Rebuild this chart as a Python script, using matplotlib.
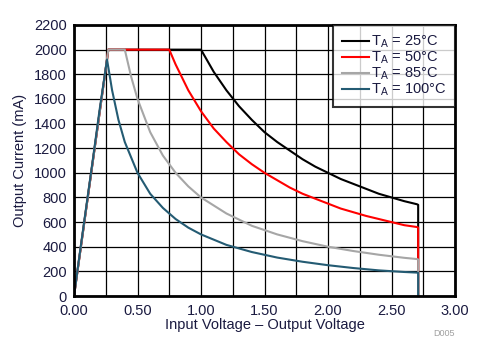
import matplotlib
matplotlib.use("Agg")
import matplotlib.pyplot as plt
from matplotlib.ticker import MultipleLocator

plt.rcParams['font.family'] = ['Liberation Sans', 'DejaVu Sans']
plt.rcParams['mathtext.fontset'] = 'custom'
plt.rcParams['mathtext.rm'] = 'Liberation Sans'

# --- data ---
labels = [r'T$_\mathregular{A}$ = 25°C', r'T$_\mathregular{A}$ = 50°C',
          r'T$_\mathregular{A}$ = 85°C', r'T$_\mathregular{A}$ = 100°C']

x_25 = [0, 0.26, 0.27, 1.0, 1.1, 1.2, 1.3, 1.4, 1.5, 1.6, 1.7, 1.8, 1.9, 2.0,
        2.1, 2.2, 2.3, 2.4, 2.5, 2.6, 2.7, 2.71, 2.71]
y_25 = [0, 1920, 2000, 2000, 1820, 1670, 1540, 1430, 1330, 1250, 1180, 1110, 1050, 1000,
        950, 910, 870, 830, 800, 770, 745, 740, 0]

x_50 = [0, 0.26, 0.27, 0.75, 0.8, 0.9, 1.0, 1.1, 1.2, 1.3, 1.4, 1.5, 1.6, 1.7, 1.8,
        1.9, 2.0, 2.1, 2.2, 2.3, 2.4, 2.5, 2.6, 2.7, 2.71, 2.71]
y_50 = [0, 1920, 2000, 2000, 1880, 1670, 1500, 1360, 1250, 1150, 1070, 1000, 940, 880, 830,
        790, 750, 710, 680, 650, 625, 600, 575, 560, 555, 0]

x_85 = [0, 0.26, 0.27, 0.4, 0.45, 0.5, 0.6, 0.7, 0.8, 0.9, 1.0, 1.2, 1.4, 1.6, 1.8,
        2.0, 2.2, 2.4, 2.6, 2.7, 2.71, 2.71]
y_85 = [0, 1920, 2000, 2000, 1780, 1600, 1330, 1140, 1000, 890, 800, 670, 570, 500, 445,
        400, 365, 335, 310, 300, 296, 0]

x_100 = [0, 0.05, 0.1, 0.15, 0.2, 0.26, 0.3, 0.35, 0.4, 0.5, 0.6, 0.7, 0.8, 0.9, 1.0,
         1.2, 1.4, 1.6, 1.8, 2.0, 2.2, 2.4, 2.6, 2.7, 2.71, 2.71]
y_100 = [0, 380, 750, 1120, 1500, 1920, 1670, 1430, 1250, 1000, 830, 715, 625, 555, 500,
         415, 357, 312, 278, 250, 227, 208, 195, 190, 188, 0]

x_ticks = [0, 0.5, 1.0, 1.5, 2.0, 2.5, 3.0]
x_tick_labels = ['0.00', '0.50', '1.00', '1.50', '2.00', '2.50', '3.00']
y_ticks = list(range(0, 2201, 200))

colors = ['#000000', '#FF0000', '#A6A6A6', '#245B73']
text_color = '#1A1A40'

fig = plt.figure(figsize=(4.93, 3.62), dpi=100)
ax = fig.add_axes([74/493, 1 - 296/362, (455-74)/493, (296-25)/362])

series = [(x_25, y_25), (x_50, y_50), (x_85, y_85), (x_100, y_100)]
for (xs, ys), c, lab in zip(series, colors, labels):
    ax.plot(xs, ys, color=c, lw=1.5, label=lab, zorder=3)

ax.set_xlim(0, 3.0)
ax.set_ylim(0, 2200)
ax.set_xticks(x_ticks)
ax.set_xticklabels(x_tick_labels)
ax.xaxis.set_minor_locator(MultipleLocator(0.25))
ax.set_yticks(y_ticks)
ax.grid(True, which='both', color='black', lw=0.9, zorder=1)
ax.tick_params(which='both', length=0, labelsize=10.5, colors=text_color)
ax.tick_params(axis='x', pad=6)
ax.tick_params(axis='y', pad=5)
for s in ax.spines.values():
    s.set_linewidth(2)
    s.set_color('black')
    s.set_zorder(4)

ax.set_xlabel('Input Voltage – Output Voltage', fontsize=10.5, color=text_color, labelpad=0)
ax.set_ylabel('Output Current (mA)', fontsize=10.5, color=text_color, labelpad=5)

leg = ax.legend(loc='upper right', borderaxespad=0, fontsize=10.5, frameon=True,
                fancybox=False, edgecolor='black', handlelength=1.85,
                handletextpad=0.15, labelspacing=-0.05, borderpad=0.6)
leg.get_frame().set_linewidth(1.5)
leg.set_zorder(5)
for t in leg.get_texts():
    t.set_color(text_color)

fig.text(455/493, 1 - 333/362, 'D005', fontsize=6.5, color='#A0A0A0',
         ha='right', va='center')

fig.savefig('out.png', dpi=100)
